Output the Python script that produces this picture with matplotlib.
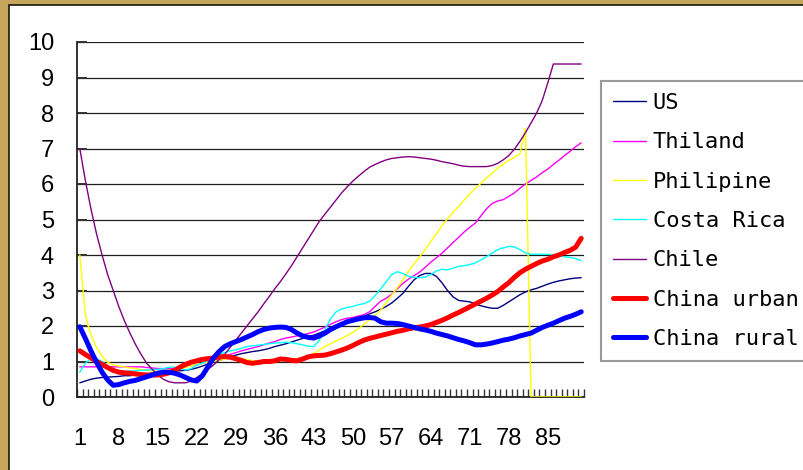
import matplotlib
matplotlib.use("Agg")
import matplotlib.pyplot as plt
from matplotlib.patches import Rectangle
from matplotlib.ticker import FixedLocator, NullFormatter
import numpy as np

# Period index 1..91
periods = list(range(1, 92))
tick_labels = [str(p) for p in range(1, 92, 7)]

us = [0.40, 0.45, 0.50, 0.53, 0.55, 0.56, 0.57, 0.58, 0.60, 0.60,
      0.62, 0.63, 0.65, 0.67, 0.68, 0.70, 0.72, 0.73, 0.74, 0.75,
      0.78, 0.82, 0.87, 0.93, 0.98, 1.03, 1.08, 1.13, 1.18, 1.22,
      1.25, 1.28, 1.30, 1.33, 1.37, 1.42, 1.46, 1.50, 1.55, 1.60,
      1.65, 1.70, 1.74, 1.80, 1.87, 1.95, 2.02, 2.08, 2.14, 2.18,
      2.23, 2.28, 2.34, 2.40, 2.47, 2.55, 2.65, 2.78, 2.92, 3.12,
      3.30, 3.42, 3.48, 3.48, 3.40, 3.22, 3.00, 2.82, 2.72, 2.70,
      2.68, 2.62, 2.57, 2.53, 2.50, 2.50, 2.58, 2.68, 2.78, 2.88,
      2.96, 3.02, 3.06, 3.12, 3.18, 3.23, 3.27, 3.30, 3.33, 3.35,
      3.36]

thiland = [0.85, 0.85, 0.85, 0.85, 0.85, 0.85, 0.85, 0.85, 0.85, 0.85,
           0.85, 0.85, 0.83, 0.82, 0.80, 0.80, 0.80, 0.82, 0.84, 0.86,
           0.88, 0.90, 0.95, 1.00, 1.05, 1.10, 1.15, 1.20, 1.25, 1.30,
           1.34, 1.38, 1.42, 1.47, 1.52, 1.56, 1.62, 1.66, 1.69, 1.72,
           1.75, 1.79, 1.83, 1.90, 1.97, 2.05, 2.12, 2.18, 2.22, 2.24,
           2.28, 2.32, 2.40, 2.55, 2.70, 2.78, 2.90, 3.05, 3.20, 3.32,
           3.42, 3.52, 3.65, 3.80, 3.92, 4.05, 4.20, 4.35, 4.50, 4.65,
           4.78, 4.90, 5.10, 5.30, 5.45, 5.52, 5.56, 5.65, 5.75, 5.88,
           6.00, 6.10, 6.20, 6.32, 6.42, 6.55, 6.67, 6.80, 6.92, 7.05,
           7.16]

philipine = [4.00, 2.30, 1.75, 1.40, 1.15, 0.98, 0.90, 0.87, 0.85, 0.82,
             0.80, 0.77, 0.75, 0.73, 0.72, 0.74, 0.76, 0.78, 0.80, 0.83,
             0.88, 0.92, 0.95, 0.98, 1.00, 1.03, 1.07, 1.10, 1.10, 1.08,
             1.05, 1.02, 1.00, 1.00, 1.02, 1.05, 1.08, 1.10, 1.08, 1.07,
             1.10, 1.15, 1.22, 1.32, 1.42, 1.50, 1.58, 1.65, 1.73, 1.82,
             1.92, 2.05, 2.17, 2.30, 2.45, 2.65, 2.88, 3.08, 3.30, 3.55,
             3.75, 3.95, 4.15, 4.38, 4.60, 4.82, 5.02, 5.20, 5.37, 5.55,
             5.72, 5.88, 6.02, 6.17, 6.30, 6.45, 6.56, 6.67, 6.75, 6.85,
             7.57, 0.00, 0.00, 0.00, 0.00, 0.00, 0.00, 0.00, 0.00, 0.00,
             0.00]

costa_rica = [0.70, 0.95, 1.08, 1.08, 1.00, 0.88, 0.78, 0.72, 0.72, 0.73,
              0.74, 0.75, 0.76, 0.77, 0.78, 0.80, 0.84, 0.84, 0.80, 0.76,
              0.80, 0.90, 0.95, 1.03, 1.12, 1.20, 1.25, 1.30, 1.33, 1.37,
              1.42, 1.44, 1.46, 1.48, 1.50, 1.52, 1.53, 1.54, 1.53, 1.50,
              1.47, 1.43, 1.42, 1.60, 1.90, 2.20, 2.40, 2.48, 2.52, 2.55,
              2.60, 2.63, 2.70, 2.85, 3.05, 3.25, 3.45, 3.53, 3.48, 3.40,
              3.37, 3.36, 3.38, 3.45, 3.55, 3.60, 3.58, 3.63, 3.68, 3.70,
              3.73, 3.78, 3.86, 3.95, 4.05, 4.15, 4.20, 4.24, 4.23, 4.15,
              4.06, 4.02, 4.02, 4.02, 4.02, 4.01, 3.98, 3.95, 3.93, 3.90,
              3.84]

chile = [7.00, 6.10, 5.30, 4.60, 4.00, 3.45, 3.00, 2.55, 2.15, 1.80,
         1.48, 1.20, 0.95, 0.78, 0.62, 0.50, 0.43, 0.40, 0.40, 0.40,
         0.45, 0.55, 0.65, 0.78, 0.90, 1.05, 1.20, 1.40, 1.60, 1.80,
         2.00, 2.20, 2.40, 2.62, 2.83, 3.05, 3.25, 3.47, 3.70, 3.95,
         4.20, 4.45, 4.70, 4.95, 5.15, 5.35, 5.55, 5.75, 5.92, 6.08,
         6.22, 6.35, 6.47, 6.55, 6.62, 6.68, 6.72, 6.74, 6.76, 6.77,
         6.76, 6.74, 6.72, 6.70, 6.67, 6.63, 6.60, 6.57, 6.53, 6.50,
         6.49, 6.49, 6.49, 6.49, 6.52, 6.58, 6.68, 6.80, 6.98, 7.20,
         7.45, 7.72, 8.00, 8.35, 8.85, 9.38, 9.38, 9.38, 9.38, 9.38,
         9.38]

china_urban = [1.30, 1.20, 1.10, 1.00, 0.92, 0.83, 0.75, 0.70, 0.68, 0.67,
               0.65, 0.63, 0.62, 0.62, 0.62, 0.64, 0.68, 0.75, 0.84, 0.92,
               0.98, 1.02, 1.06, 1.08, 1.10, 1.13, 1.14, 1.12, 1.08, 1.03,
               0.97, 0.95, 0.97, 1.00, 1.00, 1.02, 1.07, 1.06, 1.03, 1.02,
               1.07, 1.13, 1.16, 1.17, 1.18, 1.22, 1.27, 1.32, 1.38, 1.45,
               1.53, 1.60, 1.65, 1.69, 1.73, 1.77, 1.81, 1.85, 1.88, 1.92,
               1.95, 1.97, 2.00, 2.04, 2.10, 2.16, 2.23, 2.31, 2.38, 2.46,
               2.54, 2.62, 2.70, 2.78, 2.87, 2.97, 3.10, 3.22, 3.37, 3.50,
               3.60, 3.68, 3.76, 3.83, 3.88, 3.95, 4.00, 4.07, 4.13, 4.22,
               4.47]

china_rural = [1.98, 1.65, 1.30, 0.98, 0.70, 0.48, 0.33, 0.35, 0.40, 0.44,
               0.47, 0.52, 0.57, 0.62, 0.67, 0.70, 0.70, 0.67, 0.62, 0.55,
               0.48, 0.45, 0.60, 0.85, 1.10, 1.28, 1.42, 1.50, 1.56, 1.62,
               1.69, 1.76, 1.84, 1.90, 1.94, 1.96, 1.97, 1.96, 1.90, 1.80,
               1.72, 1.68, 1.66, 1.72, 1.80, 1.90, 1.98, 2.05, 2.12, 2.16,
               2.20, 2.23, 2.24, 2.22, 2.12, 2.08, 2.08, 2.07, 2.04, 2.00,
               1.96, 1.92, 1.89, 1.85, 1.80, 1.76, 1.72, 1.67, 1.62, 1.58,
               1.53, 1.47, 1.47, 1.49, 1.52, 1.56, 1.60, 1.63, 1.67, 1.72,
               1.76, 1.80, 1.88, 1.96, 2.02, 2.08, 2.15, 2.22, 2.27, 2.33,
               2.40]

series_names = ["US", "Thiland", "Philipine", "Costa Rica", "Chile",
                "China urban", "China rural"]
series_values = [us, thiland, philipine, costa_rica, chile,
                 china_urban, china_rural]
series_colors = ["#000080", "#ff00ff", "#ffff00", "#00ffff", "#800080",
                 "#ff0000", "#0000ff"]
series_widths = [1.0, 1.0, 1.0, 1.0, 1.0, 3.6, 3.6]

W, H = 804, 470
fig = plt.figure(figsize=(W / 100, H / 100), dpi=100)
fig.patch.set_facecolor("#c6a65d")

# White slide panel with a dark edge
panel = Rectangle((9 / W, -0.05), 1.1, (1 - 5 / H) + 0.05,
                  transform=fig.transFigure, facecolor="white",
                  edgecolor="#1c1408", linewidth=1.2, zorder=-1)
fig.patches.append(panel)

left, right = 77 / W, 584 / W
bottom, top = 1 - 397 / H, 1 - 42 / H
ax = fig.add_axes([left, bottom, right - left, top - bottom])
ax.set_facecolor("white")

for name, vals, col, lw in zip(series_names, series_values,
                               series_colors, series_widths):
    ax.plot(periods, vals, color=col, linewidth=lw, label=name,
            solid_joinstyle="round", solid_capstyle="round", zorder=3)

ax.set_xlim(0.5, len(periods) + 0.5)
ax.set_ylim(0, 10)

# Horizontal gridlines
ax.set_yticks(range(0, 11))
ax.yaxis.grid(True, color="#1e1e1e", linewidth=0.9)
ax.set_axisbelow(True)

# Category axis: labels every 7th period, tick marks between categories
label_pos = list(range(1, 92, 7))
ax.set_xticks(label_pos)
ax.set_xticklabels(tick_labels)
ax.xaxis.set_minor_locator(FixedLocator(np.arange(0.5, len(periods) + 1, 1.0)))
ax.xaxis.set_minor_formatter(NullFormatter())
ax.tick_params(axis="x", which="major", length=0, pad=22,
               labelsize=17, labelfontfamily="Liberation Sans")
ax.tick_params(axis="x", which="minor", direction="in", length=6,
               width=1.0, color="#333333")
ax.tick_params(axis="y", which="major", direction="in", length=7,
               width=1.4, color="#333333", pad=16.5,
               labelsize=17, labelfontfamily="Liberation Sans")

for side in ("top", "right"):
    ax.spines[side].set_visible(False)
for side in ("left", "bottom"):
    ax.spines[side].set_color("#222222")
    ax.spines[side].set_linewidth(1.3)

handles, labels = ax.get_legend_handles_labels()
leg = fig.legend(handles, labels, loc="upper left",
                 bbox_to_anchor=(601 / W, 1 - 81 / H),
                 bbox_transform=fig.transFigure,
                 prop={"family": "DejaVu Sans Mono", "size": 15.8},
                 frameon=True, fancybox=False, shadow=False,
                 borderpad=0.55, labelspacing=0.88, handlelength=1.5,
                 handletextpad=0.3, borderaxespad=0.0)
leg.get_frame().set_edgecolor("#808080")
leg.get_frame().set_linewidth(1.5)
leg.get_frame().set_facecolor("white")

fig.savefig("out.png", dpi=100, facecolor=fig.get_facecolor())
